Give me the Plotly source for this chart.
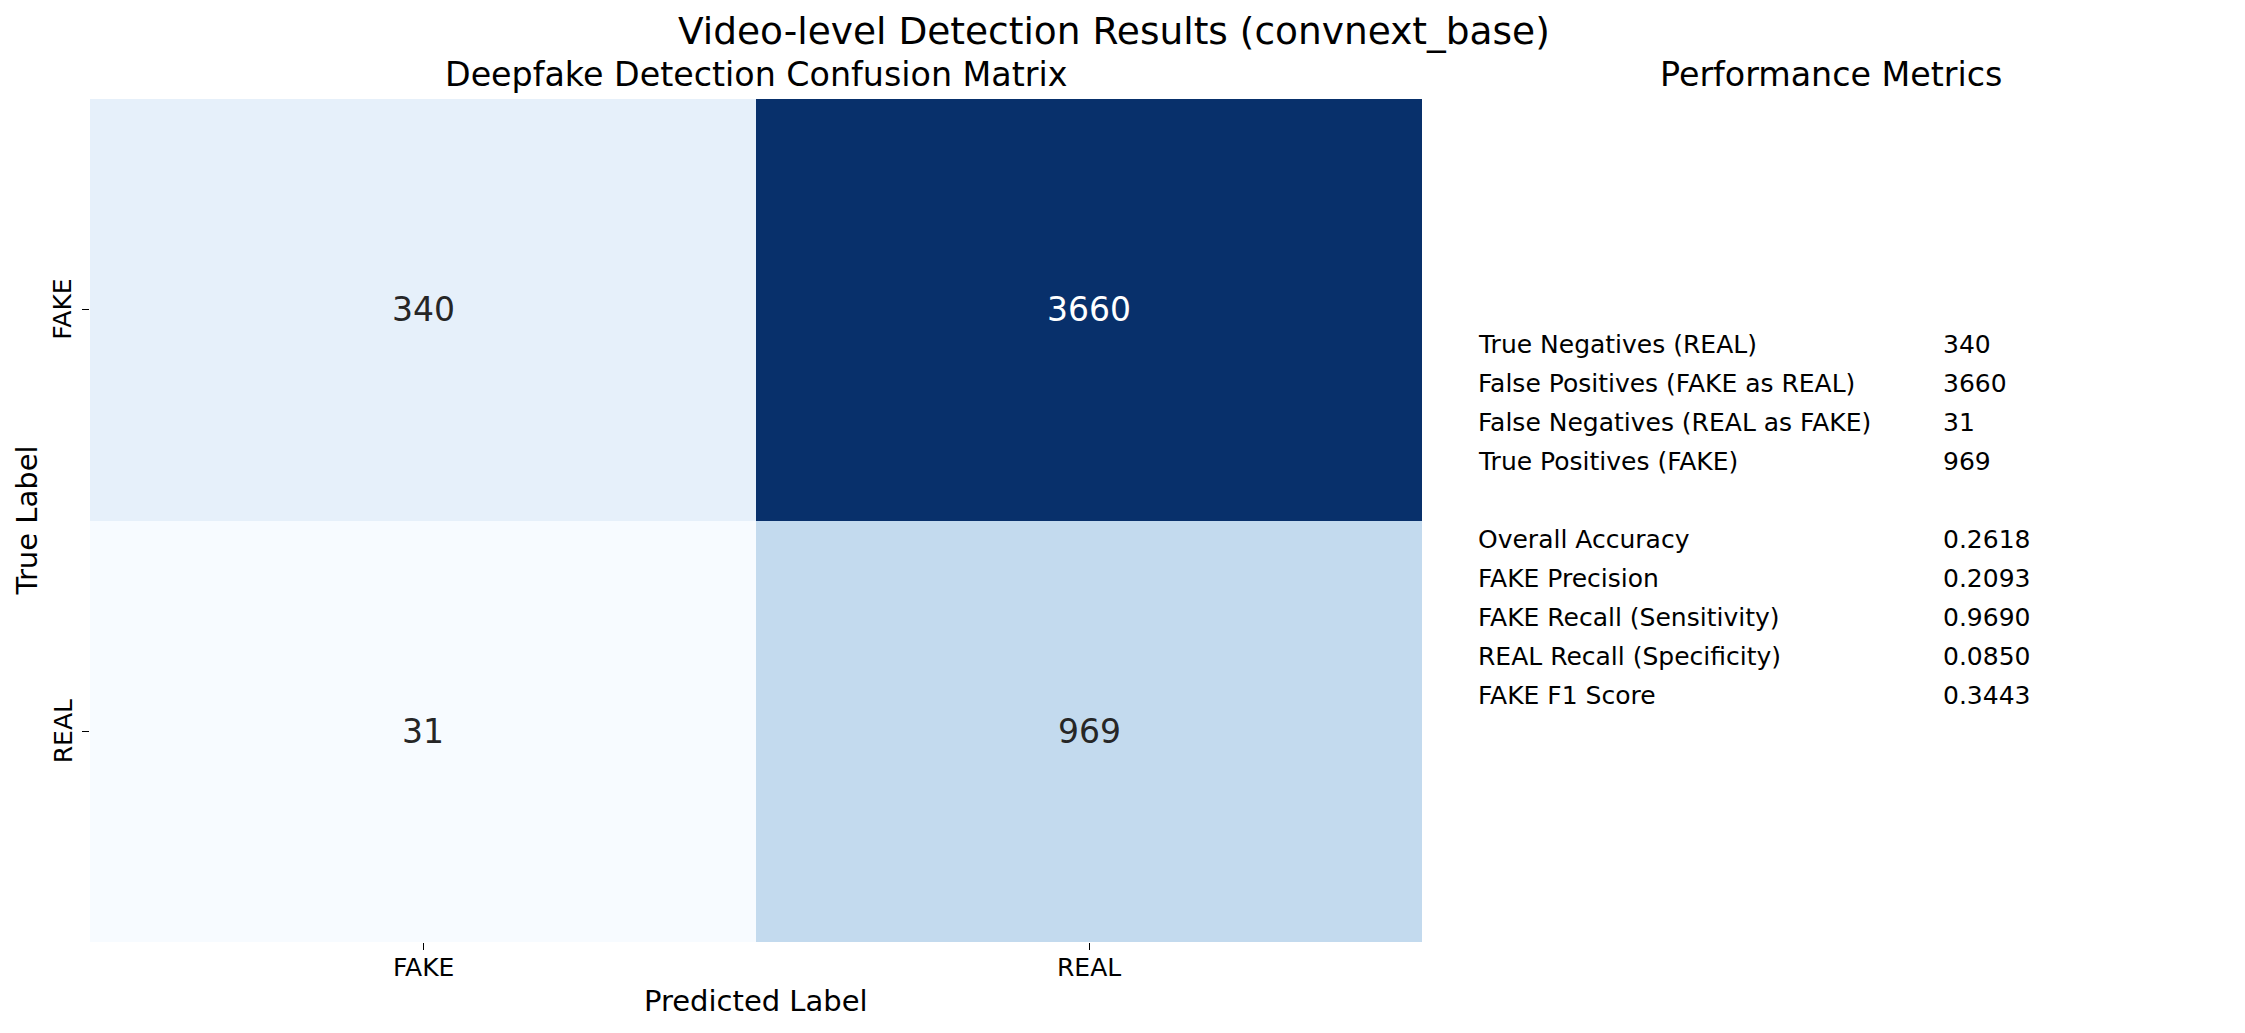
import plotly.graph_objects as go
import plotly.colors as pc

# ---- data ----
class_labels = ["FAKE", "REAL"]
cm_row_fake = [340, 3660]
cm_row_real = [31, 969]

metric_names_counts = [
    "True Negatives (REAL)",
    "False Positives (FAKE as REAL)",
    "False Negatives (REAL as FAKE)",
    "True Positives (FAKE)",
]
metric_values_counts = ["340", "3660", "31", "969"]

metric_names_scores = [
    "Overall Accuracy",
    "FAKE Precision",
    "FAKE Recall (Sensitivity)",
    "REAL Recall (Specificity)",
    "FAKE F1 Score",
]
metric_values_scores = ["0.2618", "0.2093", "0.9690", "0.0850", "0.3443"]

main_title = "Video-level Detection Results (convnext_base)"
cm_title = "Deepfake Detection Confusion Matrix"
metrics_title = "Performance Metrics"

# ---- layout constants (pixels) ----
W, H = 2245, 1033
FONT = "DejaVu Sans"
hm_left, hm_right, hm_top, hm_bottom = 90, 1422, 99, 942


def px_x(x):
    return x / W


def px_y(y):
    return 1 - y / H


z = [cm_row_fake, cm_row_real]
zmin = min(min(r) for r in z)
zmax = max(max(r) for r in z)

fig = go.Figure()
fig.add_trace(
    go.Heatmap(
        z=z,
        x=class_labels,
        y=class_labels,
        colorscale=pc.sequential.Blues,
        zmin=zmin,
        zmax=zmax,
        showscale=False,
        xgap=0,
        ygap=0,
        hoverinfo="skip",
    )
)

annotations = []
# cell annotations
for i, row in enumerate(z):
    for j, v in enumerate(row):
        frac = (v - zmin) / (zmax - zmin)
        annotations.append(
            dict(
                x=class_labels[j],
                y=class_labels[i],
                xref="x",
                yref="y",
                text=str(v),
                showarrow=False,
                font=dict(family=FONT, size=33, color="#ffffff" if frac > 0.5 else "#262626"),
            )
        )

# tick labels (placed on the category axes)
for lab in class_labels:
    annotations.append(dict(x=lab, y=px_y(967), xref="x", yref="paper", text=lab,
                            showarrow=False, xanchor="center", yanchor="middle",
                            font=dict(family=FONT, size=25, color="black")))
    annotations.append(dict(x=px_x(63), y=lab, xref="paper", yref="y", text=lab,
                            showarrow=False, xanchor="center", yanchor="middle", textangle=-90,
                            font=dict(family=FONT, size=25, color="black")))

# titles
annotations.append(dict(x=px_x(1114), y=px_y(31), xref="paper", yref="paper", text=main_title,
                        showarrow=False, xanchor="center", yanchor="middle",
                        font=dict(family=FONT, size=37.5, color="black")))
annotations.append(dict(x=px_x((hm_left + hm_right) / 2), y=px_y(75), xref="paper", yref="paper",
                        text=cm_title, showarrow=False, xanchor="center", yanchor="middle",
                        font=dict(family=FONT, size=33.3, color="black")))
annotations.append(dict(x=px_x(1831), y=px_y(75), xref="paper", yref="paper",
                        text=metrics_title, showarrow=False, xanchor="center", yanchor="middle",
                        font=dict(family=FONT, size=33.3, color="black")))
# axis titles
annotations.append(dict(x=px_x((hm_left + hm_right) / 2), y=px_y(1001), xref="paper", yref="paper",
                        text="Predicted Label", showarrow=False, xanchor="center", yanchor="middle",
                        font=dict(family=FONT, size=29, color="black")))
annotations.append(dict(x=px_x(26), y=px_y((hm_top + hm_bottom) / 2), xref="paper", yref="paper",
                        text="True Label", showarrow=False, xanchor="center", yanchor="middle",
                        textangle=-90, font=dict(family=FONT, size=29, color="black")))

# metrics table
rows = list(zip(metric_names_counts, metric_values_counts)) + [("", "")] + list(
    zip(metric_names_scores, metric_values_scores))
row_y0, row_dy = 344.5, 39
for k, (name, val) in enumerate(rows):
    if not name:
        continue
    yy = row_y0 + k * row_dy
    annotations.append(dict(x=px_x(1476), y=px_y(yy), xref="paper", yref="paper", text=name,
                            showarrow=False, xanchor="left", yanchor="middle",
                            font=dict(family=FONT, size=25, color="black")))
    annotations.append(dict(x=px_x(1941), y=px_y(yy), xref="paper", yref="paper", text=val,
                            showarrow=False, xanchor="left", yanchor="middle",
                            font=dict(family=FONT, size=25, color="black")))

fig.update_layout(
    width=W,
    height=H,
    margin=dict(l=0, r=0, t=0, b=0),
    paper_bgcolor="white",
    plot_bgcolor="white",
    font=dict(family=FONT, color="black"),
    annotations=annotations,
    xaxis=dict(
        domain=[px_x(hm_left), px_x(hm_right)],
        showgrid=False,
        zeroline=False,
        showline=False,
        ticks="outside",
        ticklen=7,
        tickwidth=1,
        tickcolor="black",
        showticklabels=False,
    ),
    yaxis=dict(
        domain=[px_y(hm_bottom), px_y(hm_top)],
        autorange="reversed",
        showgrid=False,
        zeroline=False,
        showline=False,
        ticks="outside",
        ticklen=7,
        tickwidth=1,
        tickcolor="black",
        showticklabels=False,
    ),
)

fig.write_html("out.html")
